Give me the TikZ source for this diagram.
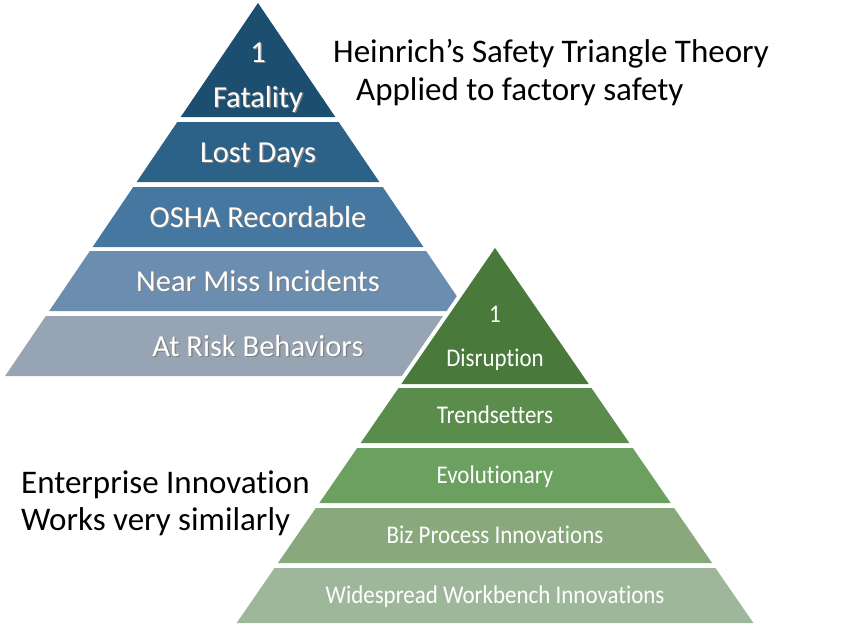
\documentclass[tikz,border=0pt]{standalone}
\usepackage{fontspec}
\setmainfont{Carlito}[Ligatures=NoCommon]
\newfontfamily\narrowfont{Carlito}[FakeStretch=0.9,Ligatures=NoCommon]

\definecolor{blueA}{HTML}{1B4E6F}
\definecolor{blueB}{HTML}{2D6288}
\definecolor{blueC}{HTML}{4577A0}
\definecolor{blueD}{HTML}{6A8DB0}
\definecolor{blueE}{HTML}{97A4B3}
\definecolor{greenA}{HTML}{4A7A3B}
\definecolor{greenB}{HTML}{5A8D4C}
\definecolor{greenC}{HTML}{6CA061}
\definecolor{greenD}{HTML}{89A97D}
\definecolor{greenE}{HTML}{9EB79B}

% white label with a soft drop shadow
\newcommand{\shadowed}[1]{\rlap{\kern1.3pt\raisebox{-1.3pt}{\textcolor{black!50}{#1}}}#1}

\tikzset{
  bluelabel/.style={font=\fontsize{30.5}{36}\selectfont, text=white, anchor=base, inner sep=0pt},
  greenlabel/.style={font=\narrowfont\fontsize{25.5}{30}\selectfont, text=white, anchor=base, inner sep=0pt},
  caption/.style={font=\fontsize{33}{40}\selectfont, anchor=base west, inner sep=0pt},
}

\begin{document}
\begin{tikzpicture}[x=1pt,y=-1pt]
      \useasboundingbox (0,0) rectangle (866,624);
      % safety triangle, apex at (258,3)
      \foreach \t/\b/\c in {3/117/blueA,122/182/blueB,187/247/blueC,251/311/blueD,316/376/blueE}
          \fill[\c] ({258-0.678*(\t-3)},\t) -- ({258+0.678*(\t-3)},\t) -- ({258+0.678*(\b-3)},\b) -- ({258-0.678*(\b-3)},\b) -- cycle;
      % white rim around the innovation triangle
      \draw[white, line width=8pt, line join=miter] (495,248) -- (753.4,623) -- (236.6,623) -- cycle;
      \foreach \t/\b/\c in {248/384/greenA,388/443/greenB,448/503/greenC,508/563/greenD,568/623/greenE}
          \fill[\c] ({495-0.689*(\t-248)},\t) -- ({495+0.689*(\t-248)},\t) -- ({495+0.689*(\b-248)},\b) -- ({495-0.689*(\b-248)},\b) -- cycle;

      \node[bluelabel] (fatalityNum) at (258,62) {\shadowed{1}};
      \node[bluelabel] (fatality) at (258,107) {\shadowed{Fatality}};
      \node[bluelabel] (lostDays) at (258,162) {\shadowed{Lost Days}};
      \node[bluelabel] (osha) at (258,227) {\shadowed{OSHA Recordable}};
      \node[bluelabel] (nearMiss) at (258,291) {\shadowed{Near Miss Incidents}};
      \node[bluelabel] (atRisk) at (258,356) {\shadowed{At Risk Behaviors}};

      \node[greenlabel] (disruptionNum) at (495,322) {1};
      \node[greenlabel] (disruption) at (495,366) {Disruption};
      \node[greenlabel] (trendsetters) at (495,423.5) {Trendsetters};
      \node[greenlabel] (evolutionary) at (495,483.5) {Evolutionary};
      \node[greenlabel] (bizProcess) at (495,543.5) {Biz Process Innovations};
      \node[greenlabel] (widespread) at (495,603.5) {Widespread Workbench Innovations};

      \node[caption] (titleA) at (333,62) {Heinrich’s Safety Triangle Theory};
      \node[caption] (titleB) at (356,100) {Applied to factory safety};
      \node[caption] (innovA) at (21,493) {Enterprise Innovation};
      \node[caption] (innovB) at (21,530) {Works very similarly};
\end{tikzpicture}
\end{document}
